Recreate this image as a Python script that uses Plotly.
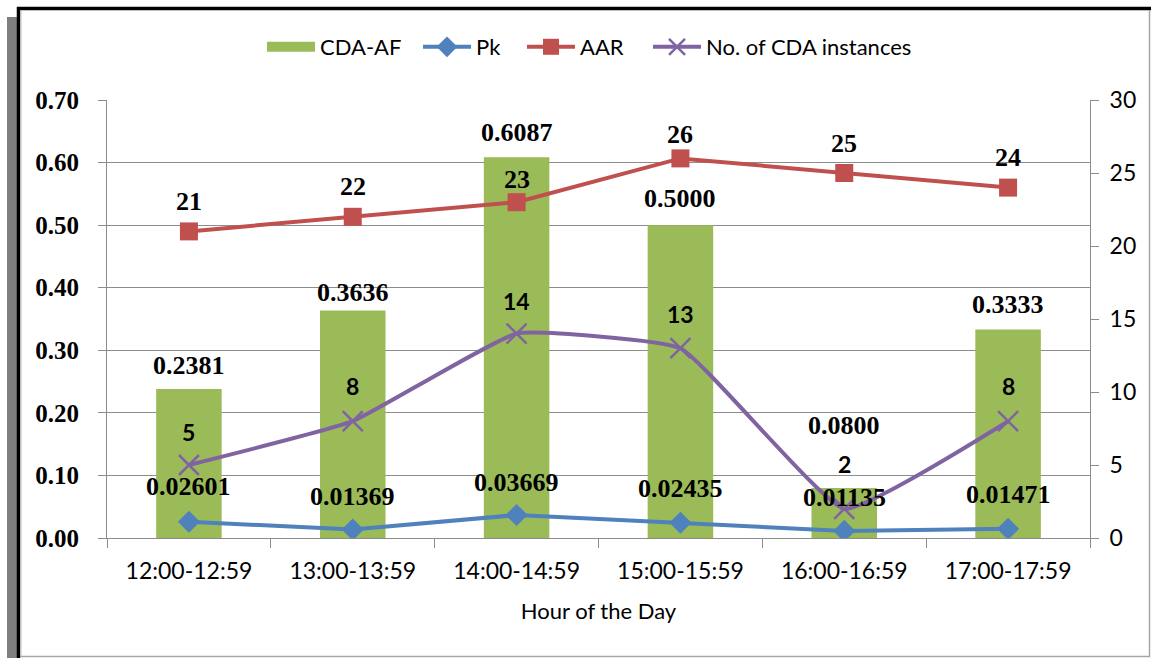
import plotly.graph_objects as go

hours = ["12:00-12:59", "13:00-13:59", "14:00-14:59", "15:00-15:59", "16:00-16:59", "17:00-17:59"]
cda_af = [0.2381, 0.3636, 0.6087, 0.5000, 0.0800, 0.3333]
pk = [0.02601, 0.01369, 0.03669, 0.02435, 0.01135, 0.01471]
aar = [21, 22, 23, 26, 25, 24]
instances = [5, 8, 14, 13, 2, 8]

cda_af_text = ["0.2381", "0.3636", "0.6087", "0.5000", "0.0800", "0.3333"]
pk_text = ["0.02601", "0.01369", "0.03669", "0.02435", "0.01135", "0.01471"]

# label offsets (pixels above the mark)
cda_af_dy = [24, 18, 25, 27, 62, 25]
pk_dy = [35, 33, 33, 34, 33, 34]
aar_dy = [30, 30, 23, 24, 30, 30]
inst_dy = [33, 35, 33, 34, 45, 35]

GREEN = "#9BBB59"
BLUE = "#4F81BD"
RED = "#C0504D"
PURPLE = "#8064A2"
GRID = "#8C8C8C"
SERIF = "Liberation Serif"
SANS = "Lato"

W, H = 1151, 658
L, R, T, B = 107, 61, 100, 120
PW, PH = W - L - R, H - T - B


def px(x):
    return (x - L) / PW


def py(y):
    return (H - B - y) / PH


fig = go.Figure()
fig.add_trace(go.Bar(x=hours, y=cda_af, name="CDA-AF", marker=dict(color=GREEN, line=dict(width=0)),
                     width=0.4, yaxis="y", showlegend=False))
# legend swatch for the bars (wide green block as in the original)
fig.add_trace(go.Scatter(x=[None], y=[None], name="CDA-AF", mode="lines",
                         line=dict(color=GREEN, width=15), yaxis="y", legend="legend"))
fig.add_trace(go.Scatter(x=hours, y=pk, name="Pk", mode="lines+markers",
                         line=dict(color=BLUE, width=4),
                         marker=dict(symbol="diamond", size=17, color=BLUE), yaxis="y",
                         legend="legend2"))
fig.add_trace(go.Scatter(x=hours, y=aar, name="AAR", mode="lines+markers",
                         line=dict(color=RED, width=4),
                         marker=dict(symbol="square", size=18, color=RED), yaxis="y2",
                         legend="legend3"))
fig.add_trace(go.Scatter(x=hours, y=instances, name="No. of CDA instances", mode="lines+markers",
                         line=dict(color=PURPLE, width=4, shape="spline", smoothing=0.35),
                         marker=dict(symbol="x-thin-open", size=20, color=PURPLE,
                                     line=dict(color=PURPLE, width=2.5)), yaxis="y2",
                         legend="legend4"))

ann = []
for h, v, t, d in zip(hours, cda_af, cda_af_text, cda_af_dy):
    ann.append(dict(x=h, y=v, xref="x", yref="y", text=t, showarrow=False, yshift=d,
                    font=dict(family=SERIF, size=26, color="black", weight="bold")))
for h, v, t, d in zip(hours, pk, pk_text, pk_dy):
    ann.append(dict(x=h, y=v, xref="x", yref="y", text=t, showarrow=False, yshift=d,
                    font=dict(family=SERIF, size=26, color="black", weight="bold")))
for h, v, d in zip(hours, aar, aar_dy):
    ann.append(dict(x=h, y=v, xref="x", yref="y2", text=str(v), showarrow=False, yshift=d,
                    font=dict(family=SERIF, size=26, color="black", weight="bold")))
for h, v, d in zip(hours, instances, inst_dy):
    ann.append(dict(x=h, y=v, xref="x", yref="y2", text=str(v), showarrow=False, yshift=d,
                    font=dict(family=SANS, size=23, color="black", weight="bold")))

shapes = [
    dict(type="rect", xref="paper", yref="paper", x0=px(7), x1=px(17), y0=py(17), y1=py(660),
         fillcolor="#7F7F7F", line=dict(width=0), layer="above"),
    dict(type="line", xref="paper", yref="paper", x0=px(17), x1=px(1152), y0=py(8.5), y1=py(8.5),
         line=dict(color="black", width=3.5), layer="above"),
    dict(type="line", xref="paper", yref="paper", x0=px(18.5), x1=px(18.5), y0=py(7), y1=py(660),
         line=dict(color="black", width=3.5), layer="above"),
    dict(type="line", xref="paper", yref="paper", x0=px(21), x1=px(21), y0=py(10), y1=py(657),
         line=dict(color="#BFBFBF", width=1), layer="above"),
    dict(type="line", xref="paper", yref="paper", x0=px(20), x1=px(1150), y0=py(656.5), y1=py(656.5),
         line=dict(color="#A6A6A6", width=1.5), layer="above"),
    dict(type="line", xref="paper", yref="paper", x0=px(1149.5), x1=px(1149.5), y0=py(10), y1=py(657),
         line=dict(color="#A6A6A6", width=1.5), layer="above"),
]


def legend_at(x_px):
    return dict(orientation="h", x=px(x_px), y=py(47), xanchor="left", yanchor="middle",
                font=dict(family=SANS, size=22, color="black"), itemwidth=48,
                bgcolor="rgba(0,0,0,0)", borderwidth=0)


fig.update_layout(
    width=W, height=H,
    margin=dict(l=L, r=R, t=T, b=B, pad=0),
    paper_bgcolor="white", plot_bgcolor="white",
    showlegend=True,
    legend=legend_at(262),
    legend2=legend_at(418),
    legend3=legend_at(522),
    legend4=legend_at(648),
    xaxis=dict(type="category", showgrid=False, showline=True, linecolor=GRID, linewidth=1,
               ticks="outside", tickson="boundaries", ticklen=9, tickcolor=GRID,
               tickfont=dict(family=SANS, size=23, color="black"), ticklabelstandoff=12,
               title=dict(text="Hour of the Day", font=dict(family=SANS, size=22, color="black"),
                          standoff=21)),
    yaxis=dict(range=[0, 0.7], dtick=0.1, tickformat=".2f", showgrid=True, gridcolor=GRID, gridwidth=1,
               showline=True, linecolor=GRID, linewidth=1, ticks="outside", ticklen=8, tickcolor=GRID,
               tickfont=dict(family=SERIF, size=25, color="black", weight="bold"), ticklabelstandoff=14,
               zeroline=False),
    yaxis2=dict(range=[0, 30], dtick=5, overlaying="y", side="right", showgrid=False,
                showline=True, linecolor=GRID, linewidth=1, ticks="outside", ticklen=8, tickcolor=GRID,
                tickfont=dict(family=SANS, size=23, color="black"), ticklabelstandoff=6,
                zeroline=False),
    annotations=ann,
    shapes=shapes,
)

fig.write_html("out.html", config={"displayModeBar": False},
               post_script="document.body.style.margin='0';document.body.style.overflow='hidden';")
